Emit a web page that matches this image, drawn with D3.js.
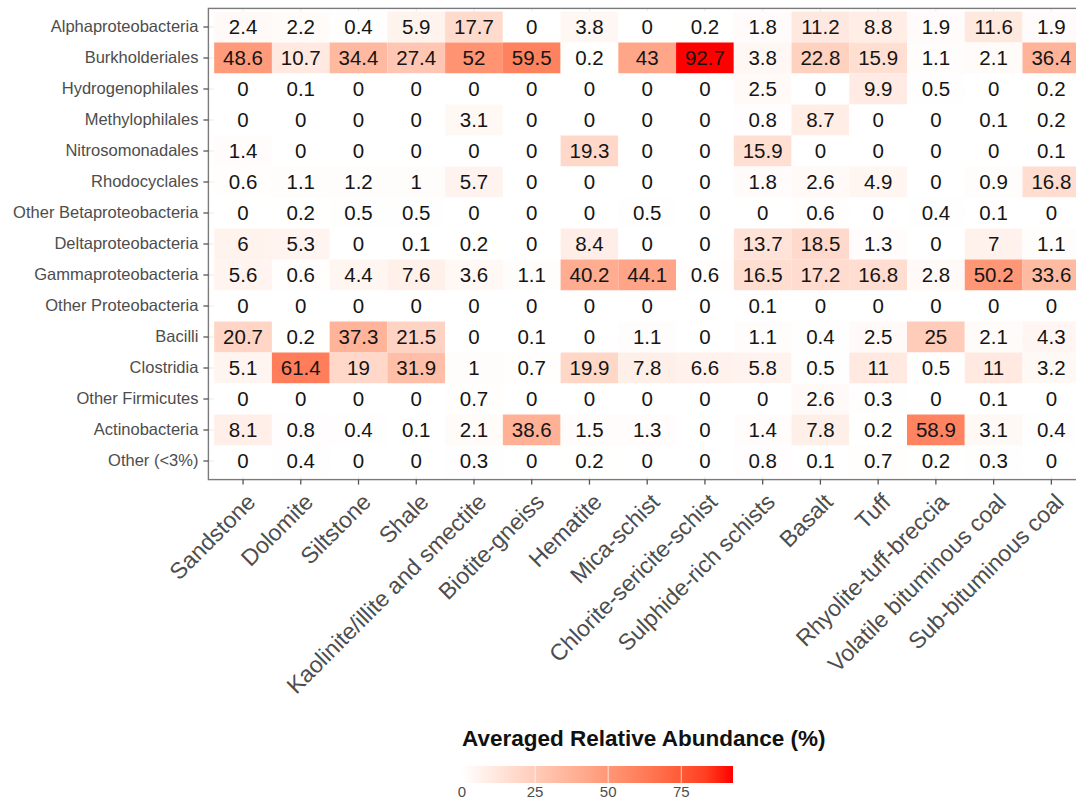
<!DOCTYPE html>
<html lang="en">
    <head>
        <meta charset="utf-8">
        <title>Averaged Relative Abundance</title>
        <script type="text/javascript" src="https://cdn.jsdelivr.net/npm/d3@7"></script>
        <style>
            body { margin: 0; background: white; }
            text { font-family: "Liberation Sans", Arial, sans-serif; }
        </style>
    </head>
    <body>
        <script type="text/javascript">
        var rocks = ["Sandstone", "Dolomite", "Siltstone", "Shale", "Kaolinite/illite and smectite",
                     "Biotite-gneiss", "Hematite", "Mica-schist", "Chlorite-sericite-schist",
                     "Sulphide-rich schists", "Basalt", "Tuff", "Rhyolite-tuff-breccia",
                     "Volatile bituminous coal", "Sub-bituminous coal"];
        var taxa = ["Alphaproteobacteria", "Burkholderiales", "Hydrogenophilales", "Methylophilales",
                    "Nitrosomonadales", "Rhodocyclales", "Other Betaproteobacteria", "Deltaproteobacteria",
                    "Gammaproteobacteria", "Other Proteobacteria", "Bacilli", "Clostridia",
                    "Other Firmicutes", "Actinobacteria", "Other (<3%)"];
        // one row per taxon, one value per rock (same order as rocks)
        var abundance = [
            [2.4, 2.2, 0.4, 5.9, 17.7, 0, 3.8, 0, 0.2, 1.8, 11.2, 8.8, 1.9, 11.6, 1.9],
            [48.6, 10.7, 34.4, 27.4, 52, 59.5, 0.2, 43, 92.7, 3.8, 22.8, 15.9, 1.1, 2.1, 36.4],
            [0, 0.1, 0, 0, 0, 0, 0, 0, 0, 2.5, 0, 9.9, 0.5, 0, 0.2],
            [0, 0, 0, 0, 3.1, 0, 0, 0, 0, 0.8, 8.7, 0, 0, 0.1, 0.2],
            [1.4, 0, 0, 0, 0, 0, 19.3, 0, 0, 15.9, 0, 0, 0, 0, 0.1],
            [0.6, 1.1, 1.2, 1, 5.7, 0, 0, 0, 0, 1.8, 2.6, 4.9, 0, 0.9, 16.8],
            [0, 0.2, 0.5, 0.5, 0, 0, 0, 0.5, 0, 0, 0.6, 0, 0.4, 0.1, 0],
            [6, 5.3, 0, 0.1, 0.2, 0, 8.4, 0, 0, 13.7, 18.5, 1.3, 0, 7, 1.1],
            [5.6, 0.6, 4.4, 7.6, 3.6, 1.1, 40.2, 44.1, 0.6, 16.5, 17.2, 16.8, 2.8, 50.2, 33.6],
            [0, 0, 0, 0, 0, 0, 0, 0, 0, 0.1, 0, 0, 0, 0, 0],
            [20.7, 0.2, 37.3, 21.5, 0, 0.1, 0, 1.1, 0, 1.1, 0.4, 2.5, 25, 2.1, 4.3],
            [5.1, 61.4, 19, 31.9, 1, 0.7, 19.9, 7.8, 6.6, 5.8, 0.5, 11, 0.5, 11, 3.2],
            [0, 0, 0, 0, 0.7, 0, 0, 0, 0, 0, 2.6, 0.3, 0, 0.1, 0],
            [8.1, 0.8, 0.4, 0.1, 2.1, 38.6, 1.5, 1.3, 0, 1.4, 7.8, 0.2, 58.9, 3.1, 0.4],
            [0, 0.4, 0, 0, 0.3, 0, 0.2, 0, 0, 0.8, 0.1, 0.7, 0.2, 0.3, 0]
        ];
        var legendTicks = [0, 25, 50, 75];
        var legendTitle = "Averaged Relative Abundance (%)";

        var w = 1076;
        var h = 800;
        var panel = {left: 208.4, right: 1086, top: 8.4, bottom: 479.6};

        var cells = [];
        taxa.forEach(function(t, i) {
            rocks.forEach(function(r, j) {
                cells.push({taxon: t, rock: r, value: abundance[i][j]});
            });
        });
        var maxVal = d3.max(cells, function(d) { return d.value; });

        var x = d3.scaleBand().domain(rocks).range([panel.left, panel.right]).paddingOuter(0.1);
        var y = d3.scaleBand().domain(taxa).range([panel.top, panel.bottom]).paddingOuter(0.1);
        var color = d3.scaleLinear().domain([0, maxVal]).range(["white", "red"])
                      .interpolate(d3.interpolateLab);

        var svg = d3.select("body")
                    .append("svg")
                    .attr("width", w)
                    .attr("height", h);

        // faint grid lines that peek out around the tiles
        svg.selectAll("line.gx")
            .data(rocks)
            .enter()
            .append("line")
            .attr("class", "gx")
            .attr("x1", function(d) { return x(d) + x.bandwidth() / 2; })
            .attr("x2", function(d) { return x(d) + x.bandwidth() / 2; })
            .attr("y1", panel.top)
            .attr("y2", panel.bottom)
            .attr("stroke", "#ebebeb")
            .attr("stroke-width", 1);
        svg.selectAll("line.gy")
            .data(taxa)
            .enter()
            .append("line")
            .attr("class", "gy")
            .attr("x1", panel.left)
            .attr("x2", panel.right)
            .attr("y1", function(d) { return y(d) + y.bandwidth() / 2; })
            .attr("y2", function(d) { return y(d) + y.bandwidth() / 2; })
            .attr("stroke", "#ebebeb")
            .attr("stroke-width", 1);

        svg.selectAll("rect.tile")
            .data(cells)
            .enter()
            .append("rect")
            .attr("class", "tile")
            .attr("x", function(d) { return x(d.rock); })
            .attr("y", function(d) { return y(d.taxon); })
            .attr("width", x.bandwidth())
            .attr("height", y.bandwidth())
            .attr("fill", function(d) { return color(d.value); });

        svg.selectAll("text.val")
            .data(cells)
            .enter()
            .append("text")
            .attr("class", "val")
            .text(function(d) { return d.value; })
            .attr("x", function(d) { return x(d.rock) + x.bandwidth() / 2; })
            .attr("y", function(d) { return y(d.taxon) + y.bandwidth() / 2; })
            .attr("dy", "0.36em")
            .attr("text-anchor", "middle")
            .attr("font-size", "20.5px")
            .attr("fill", "#151515");

        // panel border
        svg.append("rect")
            .attr("x", panel.left)
            .attr("y", panel.top)
            .attr("width", panel.right - panel.left)
            .attr("height", panel.bottom - panel.top)
            .attr("fill", "none")
            .attr("stroke", "#7a7a7a")
            .attr("stroke-width", 1.4);

        // y axis
        var yAxis = d3.axisLeft(y).tickSize(5).tickPadding(5);
        var gy = svg.append("g")
                    .attr("transform", "translate(" + panel.left + ",0)")
                    .call(yAxis);
        gy.select(".domain").remove();
        gy.selectAll(".tick line").attr("stroke", "#555").attr("stroke-width", 1.3);
        gy.selectAll(".tick text")
            .attr("font-size", "16.5px")
            .attr("font-family", "'Liberation Sans', Arial, sans-serif")
            .attr("fill", "#4d4d4d");

        // x axis
        var xAxis = d3.axisBottom(x).tickSize(5).tickPadding(0);
        var gx = svg.append("g")
                    .attr("transform", "translate(0," + panel.bottom + ")")
                    .call(xAxis);
        gx.select(".domain").remove();
        gx.selectAll(".tick line").attr("stroke", "#555").attr("stroke-width", 1.3);
        gx.selectAll(".tick text")
            .attr("font-size", "23px")
            .attr("font-family", "'Liberation Sans', Arial, sans-serif")
            .attr("fill", "#4d4d4d")
            .attr("text-anchor", "end")
            .attr("y", 0)
            .attr("dy", "0.85em")
            .attr("transform", "translate(0,10) rotate(-45)");

        // colour bar legend
        var legX = d3.scaleLinear().domain([0, maxVal]).range([462, 733]);
        var barTop = 766, barH = 17;
        var defs = svg.append("defs");
        var grad = defs.append("linearGradient").attr("id", "barGrad");
        grad.selectAll("stop")
            .data(d3.range(0, 1.0001, 0.1))
            .enter()
            .append("stop")
            .attr("offset", function(d) { return d; })
            .attr("stop-color", function(d) { return color(d * maxVal); });
        svg.append("rect")
            .attr("x", legX(0))
            .attr("y", barTop)
            .attr("width", legX(maxVal) - legX(0))
            .attr("height", barH)
            .attr("fill", "url(#barGrad)");
        svg.selectAll("line.lt")
            .data(legendTicks.filter(function(d) { return d > 0; }))
            .enter()
            .append("line")
            .attr("class", "lt")
            .attr("x1", function(d) { return legX(d); })
            .attr("x2", function(d) { return legX(d); })
            .attr("y1", barTop)
            .attr("y2", barTop + barH)
            .attr("stroke", "white")
            .attr("stroke-opacity", 0.7)
            .attr("stroke-width", 1);
        svg.selectAll("text.ll")
            .data(legendTicks)
            .enter()
            .append("text")
            .attr("class", "ll")
            .text(function(d) { return d; })
            .attr("x", function(d) { return legX(d); })
            .attr("y", 797)
            .attr("text-anchor", "middle")
            .attr("font-size", "15px")
            .attr("fill", "#4d4d4d");
        svg.append("text")
            .text(legendTitle)
            .attr("x", 462)
            .attr("y", 746)
            .attr("font-size", "22.5px")
            .attr("font-weight", "bold")
            .attr("fill", "#111");
        </script>
    </body>
</html>
